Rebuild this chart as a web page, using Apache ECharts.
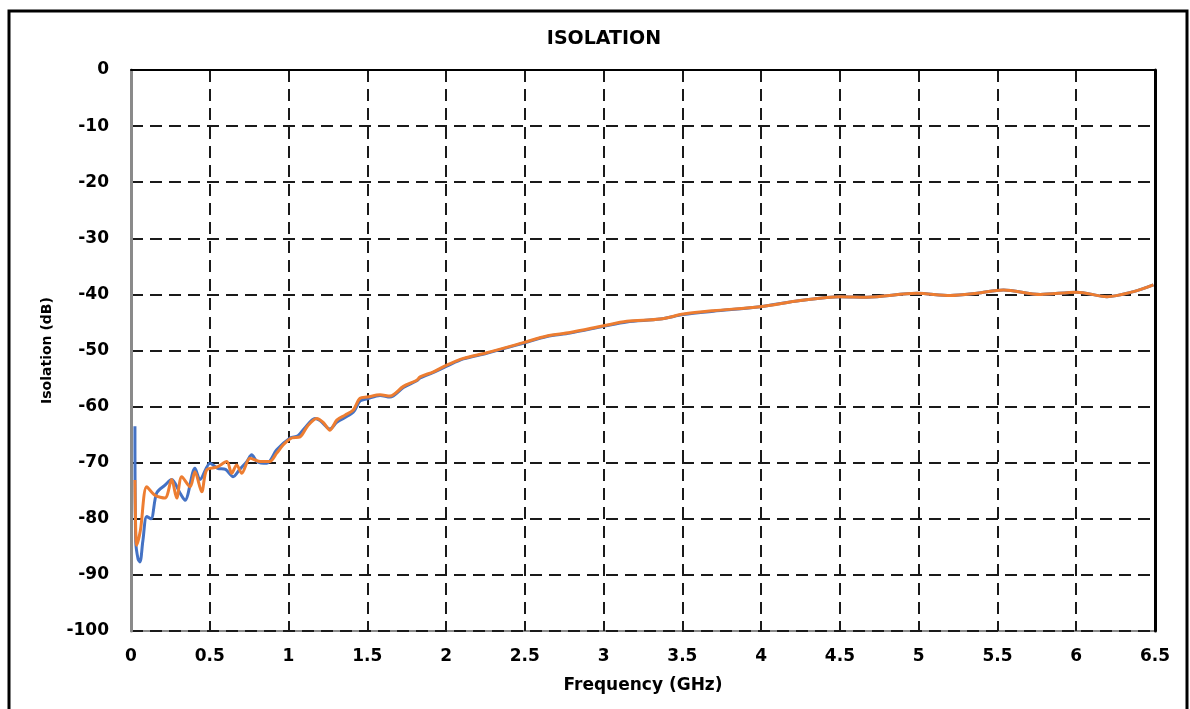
<!DOCTYPE html>
<html>
<head>
<meta charset="utf-8">
<script src="https://cdn.jsdelivr.net/npm/echarts@6/dist/echarts.min.js"></script>
<style>
  html, body { margin: 0; padding: 0; background: #fff; }
  #chart { width: 1190px; height: 709px; }
</style>
</head>
<body>
<div id="chart"></div>
<script>
// frequency (GHz) and isolation (dB)
var blueFreq = [0.025, 0.03, 0.045, 0.057, 0.075, 0.1, 0.127, 0.163, 0.216, 0.258, 0.311, 0.343, 0.406, 0.438, 0.502, 0.55, 0.6, 0.648, 0.69, 0.735, 0.766, 0.8, 0.862, 0.925, 1.01, 1.06, 1.1, 1.168, 1.2, 1.263, 1.306, 1.411, 1.454, 1.5, 1.581, 1.644, 1.729, 1.814, 1.835, 1.92, 2.004, 2.11, 2.258, 2.49, 2.64, 2.787, 2.999, 3.147, 3.359, 3.507, 3.697, 3.994, 4.248, 4.502, 4.671, 4.989, 5.2, 5.37, 5.538, 5.771, 6.004, 6.195, 6.364, 6.49];
var blueIso = [-63.5, -84, -87.2, -87.7, -84, -79.6, -80, -75.4, -74, -73, -75.4, -76.7, -71, -73, -70.1, -71, -71.2, -72.5, -71.2, -69.8, -68.6, -69.8, -70.1, -67.7, -65.6, -65.2, -63.9, -62.1, -62.5, -64, -62.8, -61, -59, -58.6, -58, -58.3, -56.6, -55.4, -54.9, -53.9, -52.8, -51.5, -50.5, -48.7, -47.5, -46.9, -45.7, -44.9, -44.4, -43.6, -43, -42.2, -41.1, -40.4, -40.5, -39.8, -40.2, -39.8, -39.2, -40, -39.6, -40.4, -39.5, -38.3];

var orangeFreq = [0.025, 0.03, 0.036, 0.06, 0.1, 0.152, 0.216, 0.258, 0.29, 0.322, 0.375, 0.406, 0.449, 0.48, 0.544, 0.608, 0.639, 0.671, 0.703, 0.756, 0.819, 0.88, 0.925, 0.967, 1.02, 1.073, 1.12, 1.179, 1.22, 1.263, 1.306, 1.36, 1.411, 1.454, 1.5, 1.581, 1.644, 1.729, 1.814, 1.835, 1.92, 2.004, 2.11, 2.258, 2.49, 2.64, 2.787, 2.999, 3.147, 3.359, 3.507, 3.697, 3.994, 4.248, 4.502, 4.671, 4.989, 5.2, 5.37, 5.538, 5.771, 6.004, 6.195, 6.364, 6.49];
var orangeIso = [-73.1, -82, -84.7, -82, -74.3, -75.8, -76.3, -73, -76.3, -72.5, -74.3, -71.6, -75.2, -71.3, -70.8, -69.8, -71.9, -70.4, -71.9, -69.2, -69.8, -69.8, -68.3, -66.8, -65.6, -65.4, -63.5, -62.1, -62.8, -64.2, -62.4, -61.5, -60.6, -58.5, -58.3, -57.9, -58.1, -56.4, -55.3, -54.7, -53.8, -52.6, -51.4, -50.4, -48.6, -47.4, -46.8, -45.6, -44.8, -44.4, -43.5, -42.9, -42.2, -41.1, -40.4, -40.5, -39.8, -40.2, -39.8, -39.2, -40, -39.6, -40.4, -39.5, -38.3];

function pairs(xs, ys) {
  return xs.map(function (x, i) { return [x, ys[i]]; });
}

var myChart = echarts.init(document.getElementById('chart'));
var font = 'DejaVu Sans';
var labelFont = { color: '#000', fontWeight: 'bold', fontSize: 17, fontFamily: font };
var dashed = { color: '#1a1a1a', width: 2, type: [12, 7] };

var option = {
  animation: false,
  title: {
    text: 'ISOLATION',
    left: 599, top: 25, textAlign: 'center',
    textStyle: { color: '#000', fontWeight: 'bold', fontSize: 19, fontFamily: font }
  },
  graphic: [{
    type: 'rect',
    shape: { x: 9, y: 11, width: 1178, height: 730 },
    style: { fill: 'none', stroke: '#000', lineWidth: 3 }
  }],
  grid: {
    left: 131, right: 35, top: 70, bottom: 78,
    show: true, borderColor: '#8a8a8a', borderWidth: 2
  },
  xAxis: {
    type: 'value', min: 0, max: 6.5, interval: 0.5,
    name: 'Frequency (GHz)', nameLocation: 'middle', nameGap: 46,
    nameTextStyle: { color: '#000', fontWeight: 'bold', fontSize: 17, fontFamily: font },
    axisLine: { show: true, lineStyle: { color: '#000', width: 2 } },
    axisTick: { show: false },
    axisLabel: Object.assign({ margin: 17 }, labelFont),
    splitLine: { show: true, lineStyle: dashed }
  },
  yAxis: [{
    type: 'value', min: -100, max: 0, interval: 10,
    name: 'Isolation (dB)', nameLocation: 'middle', nameGap: 77,
    nameTextStyle: { color: '#000', fontWeight: 'bold', fontSize: 14, fontFamily: font },
    axisLine: { show: true, lineStyle: { color: '#8a8a8a', width: 3 } },
    axisTick: { show: false },
    axisLabel: Object.assign({ margin: 22 }, labelFont),
    splitLine: { show: true, lineStyle: dashed }
  }, {
    type: 'value', min: -100, max: 0, interval: 10, position: 'right',
    axisLine: { show: true, lineStyle: { color: '#000', width: 3 } },
    axisTick: { show: false }, axisLabel: { show: false }, splitLine: { show: false }
  }],
  series: [{
    name: 'S1', type: 'line', smooth: 0.3, showSymbol: false,
    lineStyle: { color: '#4472C4', width: 3 },
    data: pairs(blueFreq, blueIso)
  }, {
    name: 'S2', type: 'line', smooth: 0.3, showSymbol: false,
    lineStyle: { color: '#ED7D31', width: 3 },
    data: pairs(orangeFreq, orangeIso)
  }]
};
myChart.setOption(option);
</script>
</body>
</html>
